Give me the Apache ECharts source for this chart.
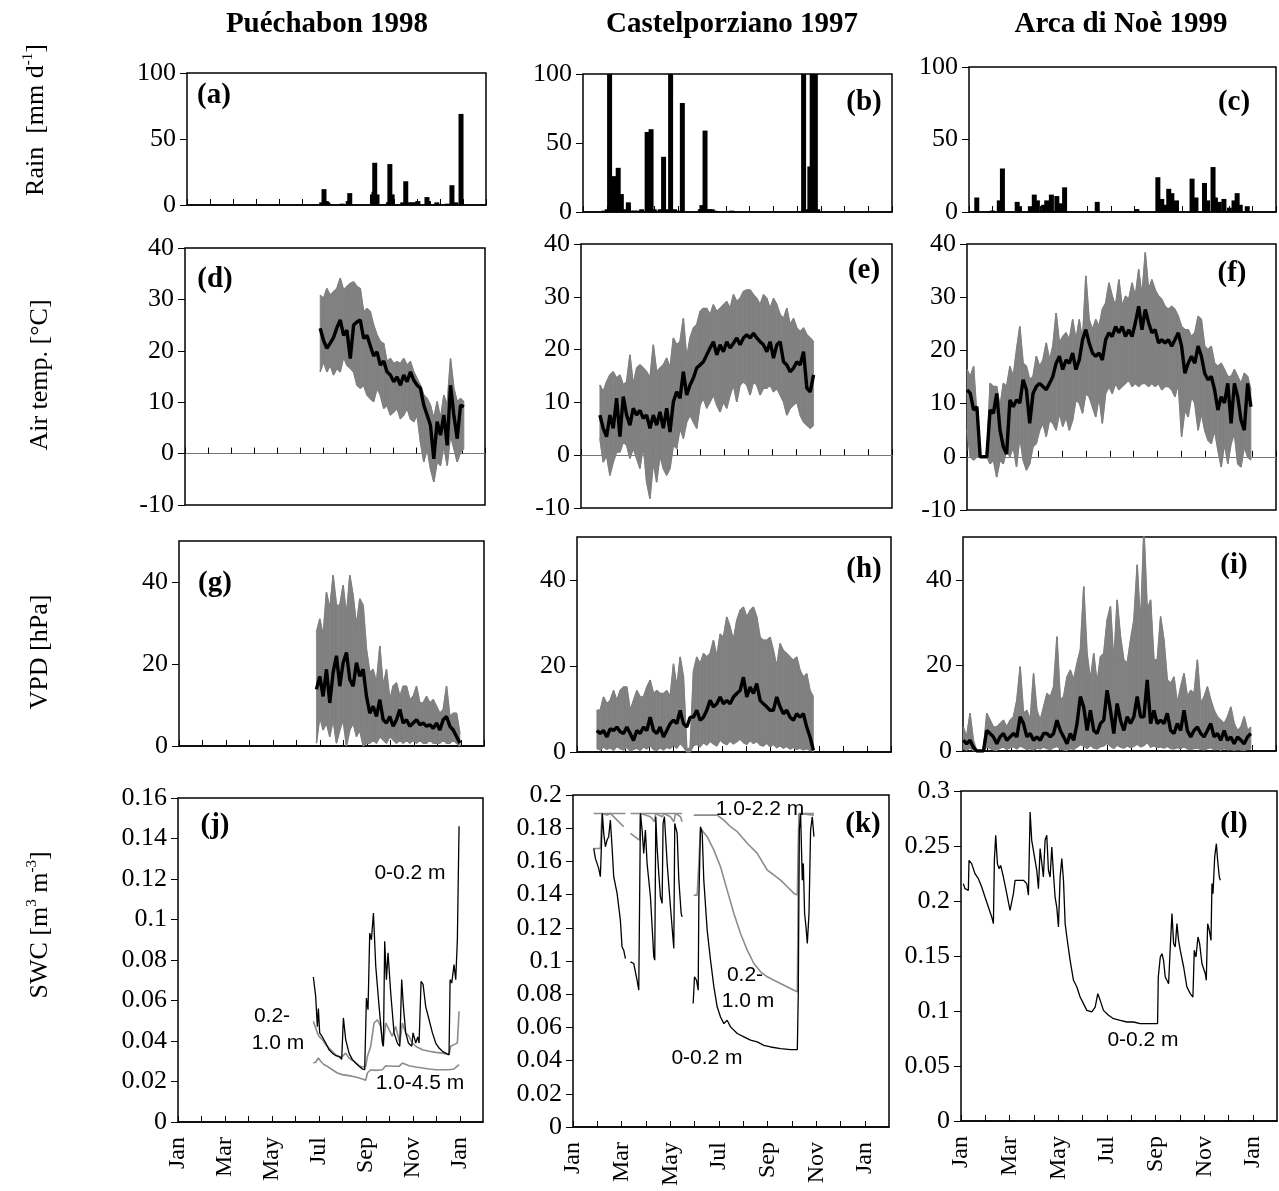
<!DOCTYPE html>
<html><head><meta charset="utf-8">
<script src="https://cdn.jsdelivr.net/npm/echarts@6/dist/echarts.min.js"></script>
<style>html,body{margin:0;padding:0;background:#fff}#c{width:1279px;height:1191px}</style>
</head><body><div id="c"></div>
<script>
// ---------------- text ----------------
const siteTitles = ['Puéchabon 1998', 'Castelporziano 1997', 'Arca di Noè 1999'];
const panelLetters = ['(a)','(b)','(c)','(d)','(e)','(f)','(g)','(h)','(i)','(j)','(k)','(l)'];
const monthLabels = ['Jan','','Mar','','May','','Jul','','Sep','','Nov','','Jan'];

// ---------------- rain [day, mm d-1] ----------------
const rainPue = [[178,2],[181,12],[184,3],[186,2],[205,1],[213,3],[215,9],[245,8],[247,10],[248,32],[251,8],[266,2],[268,31],[271,8],[285,2],[289,18],[293,2],[297,2],[301,2],[305,3],[317,6],[319,3],[330,2],[344,1],[350,15],[355,2],[362,69]];
const rainCas = [[27,1],[31,2],[34,130],[40,26],[42,2],[45,32],[49,13],[53,2],[58,7],[62,1],[66,1],[70,1],[75,2],[82,58],[87,60],[91,2],[95,1],[99,2],[103,40],[106,2],[109,1],[112,130],[117,2],[121,1],[127,79],[150,2],[152,5],[156,59],[159,2],[162,2],[165,2],[168,1],[190,1],[282,130],[286,2],[290,33],[293,130],[297,130],[300,2]];
const rainArc = [[10,10],[30,1],[39,8],[43,30],[62,7],[65,4],[79,4],[84,12],[88,8],[96,5],[100,8],[106,12],[113,11],[119,6],[123,17],[165,7],[216,2],[243,24],[248,9],[254,5],[257,16],[261,13],[267,8],[287,23],[292,10],[303,20],[307,8],[314,31],[317,10],[322,7],[328,9],[335,3],[341,8],[345,13],[349,5],[358,4]];

// ---------------- air temperature (daily max / min / mean, sampled) ----------------
const tPueStart = 178, tPueStep = 4.4;
const tPueMax  = [30.8,30.2,32.1,30.8,31.5,32.1,34.1,31.8,32.5,33.1,33.4,32.5,32.1,27.6,28.2,27.6,25.0,23.1,21.8,21.4,17.9,18.5,17.5,17.9,17.5,18.5,17.2,17.9,15.9,14.6,13.3,11.4,10.7,9.4,6.8,10.1,6.8,11.4,9.4,18.5,12.7,10.1,10.7,10.1];
const tPueMin  = [15.9,17.9,15.9,17.2,15.3,16.6,15.9,18.8,17.2,16.6,15.9,13.3,12.7,13.3,11.4,10.7,10.1,12.7,11.4,8.8,9.4,7.5,8.1,8.8,6.8,7.5,8.8,6.8,6.2,7.5,2.3,-1.6,1.0,-2.9,-5.5,-1.6,-2.3,1.6,-2.3,3.6,1.0,-1.6,0.3,1.0];
const tPueMean = [24.4,22.0,20.5,21.5,22.6,24.5,26.0,23.0,24.0,18.5,25.0,25.6,26.0,22.4,23.0,21.0,19.0,19.8,17.2,18.0,15.9,15.3,14.0,14.9,13.3,15.3,14.0,15.9,14.3,13.3,12.7,9.4,7.5,5.5,-1.0,6.2,3.6,7.5,1.6,13.3,7.5,2.9,9.4,9.1];

const tCasStart = 24, tCasStep = 4.24;
const tCasMax  = [13.3,12.0,13.9,15.2,15.8,14.6,15.2,13.3,13.9,19.0,13.3,16.5,17.1,16.5,15.8,14.6,20.9,15.8,16.5,17.1,18.4,16.5,22.2,20.9,21.5,25.9,18.4,22.2,24.1,24.7,27.2,27.8,27.8,26.6,28.5,27.2,27.8,28.5,29.1,27.8,30.4,29.1,29.7,31.0,31.3,31.3,30.4,29.7,28.5,30.4,29.7,27.8,29.7,28.5,26.6,25.9,27.8,24.7,25.9,24.1,23.4,24.1,22.8,22.2,21.5];
const tCasMin  = [3.2,-1.3,0,-3.8,-1.3,0.6,0.6,2.5,1.9,-0.6,1.3,-0.6,-2.5,1.9,-5.1,-8.2,-1.3,-5.1,0,-2.5,-3.8,-2.5,1.9,1.3,5.1,3.2,6.3,7.6,6.3,5.1,9.5,10.8,8.9,10.1,11.4,9.5,8.2,10.1,8.9,11.4,13.3,10.1,13.3,13.9,13.3,11.4,13.9,13.3,11.4,12.7,12.7,13.3,12.0,12.7,11.4,10.1,7.6,8.9,9.5,10.1,7.6,6.3,5.7,5.1,5.7];
const tCasMean = [7.6,5.1,3.5,7.6,5.1,10.8,3.5,11.1,7.6,5.7,8.9,7.6,8.5,7.0,7.6,5.1,7.6,5.7,8.2,5.1,8.9,4.4,10.1,12.0,10.8,15.8,11.4,13.3,14.6,16.5,17.1,17.7,19.0,20.3,21.5,19.0,20.9,19.6,21.5,20.3,21.2,22.2,20.9,22.2,22.8,22.2,23.1,22.2,21.5,20.9,19.6,21.5,18.4,20.9,21.5,17.7,17.1,15.8,16.5,17.7,17.1,19.6,12.7,12.0,15.2];

const tArcStart = 0, tArcStep = 4.22;
const tArcMax  = [16.4,15.1,17.0,7.5,0,0,0,13.8,13.2,13.2,9.4,13.8,13.2,17.0,15.1,20.1,24.5,17.6,17.0,14.5,15.1,18.9,17.0,18.2,21.4,18.2,20.8,27.0,21.4,22.6,23.3,22.0,25.8,22.0,25.8,22.0,34.0,25.8,23.9,25.8,24.5,27.7,28.9,32.7,30.2,28.3,33.3,28.3,30.2,29.6,32.7,30.2,35.2,30.2,38.4,31.4,33.3,31.4,30.2,29.6,28.3,27.7,28.3,27.7,26.4,24.5,23.9,23.9,22.6,23.3,26.4,25.8,20.8,20.1,20.8,17.6,17.0,17.6,16.4,15.1,15.1,16.4,15.1,13.8,15.7,15.1,12.6];
const tArcMin  = [5.0,0,-0.6,0,0,0,0,-1.3,-0.6,-3.8,-0.6,-1.3,1.3,0,1.9,-1.9,3.8,-0.6,-2.5,-1.3,1.9,2.5,5.0,6.3,3.8,6.9,6.3,5.0,8.2,5.7,7.5,5.0,6.9,10.7,10.1,8.2,11.9,11.3,9.4,7.5,11.3,6.3,11.9,13.2,11.9,13.8,12.6,13.2,13.8,14.5,13.2,13.8,13.2,13.8,13.8,13.2,13.8,13.2,13.8,12.6,13.2,13.2,12.6,11.3,13.8,3.8,8.8,7.5,11.3,10.1,5.0,8.2,5.0,3.1,2.5,5.0,1.3,-1.9,2.5,-1.3,2.5,4.4,-1.3,-1.9,1.9,0,-0.6];
const tArcMean = [12.6,11.9,8.8,9.4,0,0,0,8.8,8.2,11.9,5.0,1.9,0.5,10.7,9.4,10.7,10.1,14.5,12.6,6.3,11.9,13.2,13.8,13.2,12.6,13.8,15.1,17.6,18.9,16.4,18.2,17.6,19.5,16.4,18.2,22.0,23.9,21.4,19.5,18.9,19.5,18.2,22.0,23.3,22.6,24.5,23.3,24.5,22.6,23.9,22.6,25.2,28.3,23.9,27.7,25.2,23.3,23.9,21.4,22.0,21.4,22.0,20.8,22.0,23.3,20.8,15.7,17.6,18.9,17.6,20.8,18.9,15.7,14.5,15.1,12.6,8.8,11.3,10.1,13.8,6.3,13.8,11.3,6.9,5.0,13.8,9.4];

// ---------------- VPD (daily max / min / mean, sampled) ----------------
const vPueStart = 178, vPueStep = 4.32;
const vPueMax  = [27.7,31.0,26.9,37.5,33.4,41.6,34.3,34.3,39.2,31.8,41.6,36.7,29.3,35.9,34.3,23.6,17.9,18.7,15.4,24.4,14.6,18.7,11.3,14.6,15.4,12.1,14.6,14.6,11.3,12.1,14.6,10.5,10.5,12.1,10.5,11.3,9.7,8.0,8.9,14.6,7.2,8.0,8.0,3.1];
const vPueMin  = [0.7,7.2,3.9,5.6,2.3,6.4,0.7,3.9,6.4,0,3.9,5.6,2.3,3.9,0,0.7,0.7,1.5,0.7,2.3,1.5,0.7,2.3,1.5,0.7,1.5,0.7,1.5,0.7,1.5,0.7,1.5,0.7,0.7,1.5,0.7,0.7,0.7,1.5,0.7,0.7,1.5,0.7,0];
const vPueMean = [13.8,17.0,12.1,18.7,10.5,17.9,22.0,14.6,20.3,22.8,16.2,14.6,20.3,17.0,18.7,12.1,8.0,9.7,7.2,11.3,6.4,5.6,7.2,4.8,6.4,8.9,5.6,6.4,4.8,5.6,6.4,5.2,5.6,4.8,5.2,4.3,5.6,3.9,6.4,7.2,4.8,3.9,2.3,0.7];

const vCasStart = 25, vCasStep = 4.19;
const vCasMax  = [9.7,9.7,12.8,11.2,12.0,14.3,12.0,14.3,15.1,15.1,9.7,12.0,14.3,12.8,12.8,15.1,16.7,13.6,14.3,13.6,13.6,14.3,12.8,20.5,15.1,22.1,17.4,0.5,1.0,18.8,22.1,20.5,22.9,22.1,22.9,26.0,22.1,27.4,26.7,31.4,29.1,26.0,30.6,32.9,33.7,31.4,32.9,33.7,31.4,26.7,26.0,26.0,26.7,23.6,19.8,25.2,23.6,22.9,22.1,21.3,22.1,19.0,17.4,18.2,14.3,12.8];
const vCasMin  = [0.8,0.5,1.2,0.6,1.0,0.4,1.3,0.8,0.5,1.1,0.3,0.6,0.9,0.4,1.2,0.7,1.5,0.6,0.4,1.0,0.5,1.1,0.8,1.6,0.9,2.0,1.2,0,0,1.5,1.8,1.2,2.2,1.6,2.5,1.9,1.4,2.8,2.1,1.7,2.6,1.9,2.4,3.0,2.2,1.8,2.7,2.0,2.5,1.6,1.4,2.1,1.2,1.8,1.0,1.5,0.9,1.3,0.7,1.1,0.6,0.9,0.5,0.8,0.4,0.2];
const vCasMean = [5.0,4.3,5.0,3.5,5.4,5.0,5.8,4.7,4.3,5.8,4.3,2.7,5.0,4.3,5.8,5.0,8.1,5.0,4.3,5.8,3.5,5.0,6.6,7.4,6.6,9.7,6.6,5.8,8.1,8.1,9.7,7.4,8.1,9.7,12.0,10.5,11.2,12.8,11.2,12.0,11.2,12.8,13.6,14.3,17.4,12.8,15.1,13.6,15.9,12.0,11.2,10.5,9.7,9.7,12.8,10.5,8.9,9.7,8.1,7.4,8.9,8.1,8.9,5.8,3.5,0.4];

const vArcStart = 0.4, vArcStep = 4.22;
const vArcMax  = [5.6,3.3,8.8,2.5,0,0,0,8.8,7.2,5.6,5.6,6.4,7.2,5.6,7.2,8.0,11.9,19.7,8.8,9.5,7.2,18.1,9.5,7.2,10.3,13.4,12.7,15.0,26.7,11.9,12.7,17.3,18.9,16.6,20.5,23.6,38.4,22.8,16.6,22.8,15.8,22.0,22.8,30.6,33.8,20.5,35.3,26.7,21.3,20.5,25.9,30.6,43.5,29.1,52,33.0,35.3,21.3,21.3,31.4,25.9,16.6,15.8,17.3,11.1,15.0,18.1,12.7,14.2,13.4,21.3,11.1,12.7,15.0,11.9,9.5,8.0,7.2,6.4,8.0,10.3,6.4,4.8,5.6,8.0,4.8,5.6];
const vArcMin  = [0.5,0.2,0.8,0.1,0,0,0,1.0,0.6,0.3,0.2,0.7,0.9,0.4,0.8,1.0,0.5,1.2,0.8,0.4,0.6,0.3,0.7,0.5,0.9,0.6,0.4,0.8,1.1,0.5,0.3,0.2,0.6,0.4,0.9,1.5,1.2,0.6,1.3,0.7,0.5,1.0,1.2,1.8,1.1,0.6,1.4,0.9,0.7,1.2,0.8,1.1,1.6,1.0,1.3,2.0,0.9,1.2,0.8,1.0,0.7,1.1,0.6,0.5,0.8,0.6,1.0,0.5,0.4,0.6,0.7,0.4,0.3,0.6,0.8,0.3,0.5,0.2,0.6,0.3,0.4,0.2,0.4,0.3,0.2,0.4,0.5];
const vArcMean = [2.5,1.7,2.5,0.9,0,0,0,4.8,4.1,3.3,1.7,3.3,4.1,2.5,3.3,4.1,3.3,8.0,6.4,3.3,4.1,2.5,3.3,2.5,4.1,4.1,3.3,4.1,7.2,4.8,3.3,1.7,4.1,2.5,6.4,12.7,10.3,4.8,9.5,4.8,4.1,6.4,7.2,14.2,9.5,4.1,11.1,7.2,4.8,8.0,6.4,8.0,12.7,8.0,8.0,16.6,6.4,9.5,6.4,7.2,6.4,8.8,4.8,4.1,6.4,4.8,9.5,4.8,3.3,4.8,5.6,4.1,3.3,4.8,6.4,3.3,4.1,2.5,4.8,2.5,3.3,1.7,3.3,2.5,1.7,3.3,4.1];

// ---------------- soil water content [day, m3 m-3] ('-' = gap) ----------------
const swcPueTop = [[175.3,0.0716],[178.3,0.062],[180.5,0.047],[181.8,0.056],[183.5,0.044],[187,0.042],[191.3,0.039],[195.6,0.0357],[199.9,0.034],[204.2,0.0328],[208.6,0.0324],[212,0.031],[214.2,0.0514],[217.2,0.0407],[221.5,0.034],[225.8,0.0308],[230.2,0.0291],[234.5,0.0275],[238.8,0.0262],[241.8,0.0258],[244,0.0612],[246.1,0.0555],[248.3,0.0933],[250.5,0.090],[253.1,0.1032],[256.1,0.0769],[260.4,0.0571],[264.7,0.039],[266,0.0374],[267.7,0.0892],[269.9,0.0703],[272,0.0835],[275.5,0.0637],[279.8,0.044],[284.1,0.039],[287.2,0.0374],[289.7,0.0703],[291.9,0.0571],[294.9,0.044],[298.4,0.039],[302.7,0.0374],[304.4,0.044],[307.9,0.039],[310.5,0.042],[312.2,0.039],[314.8,0.0695],[317.4,0.068],[320.8,0.057],[325.2,0.0505],[329.5,0.044],[333.8,0.039],[338.1,0.0365],[342.4,0.0349],[346.7,0.034],[351,0.0332],[352.4,0.0703],[354.5,0.0686],[357.5,0.0777],[359.7,0.0703],[361.8,0.090],[364,0.146]];
const swcPueMid = [[175.3,0.0497],[180.5,0.044],[182.7,0.0423],[187,0.0407],[191.3,0.0382],[195.6,0.0365],[199.9,0.0349],[204.2,0.0332],[208.6,0.0321],[212.9,0.0324],[217.2,0.034],[221.5,0.0316],[225.8,0.0305],[230.2,0.0291],[234.5,0.0278],[238.8,0.0272],[243.1,0.0275],[245.3,0.0324],[249.6,0.0374],[253.9,0.0489],[258.2,0.0505],[262.5,0.0472],[265.6,0.0374],[269,0.0489],[273.3,0.0456],[277.6,0.0423],[281.9,0.0472],[287.2,0.039],[290.6,0.0489],[294.9,0.044],[299.2,0.0423],[303.6,0.039],[307.9,0.0374],[312.2,0.0365],[316.5,0.0357],[325.2,0.0349],[333.8,0.0344],[342.4,0.034],[351,0.0332],[353.2,0.0374],[357.5,0.0382],[361.8,0.039],[364,0.0547]];
const swcPueDeep = [[175.3,0.0291],[178.3,0.0295],[181.8,0.0316],[184.8,0.0300],[189.1,0.0283],[193.4,0.0275],[199.9,0.0258],[206.4,0.0242],[212.9,0.0234],[221.5,0.0229],[230.2,0.0222],[238.8,0.0212],[243.1,0.0206],[245.3,0.0242],[249.6,0.0258],[256.1,0.0255],[264.7,0.0258],[269,0.0278],[277.6,0.0275],[286.3,0.0275],[290.6,0.0291],[299.2,0.0278],[307.9,0.0272],[316.5,0.0267],[325.2,0.0262],[333.8,0.0258],[351,0.0258],[357.5,0.0262],[364,0.0283]];

const swcCasTop = [[25.9,0.1678],[28,0.1618],[30,0.1608],[32.1,0.1558],[34.2,0.1508],[35.5,0.1688],[36.7,0.1889],[38.4,0.1769],[40.5,0.1688],[42.6,0.1729],[44.6,0.1749],[46.7,0.1849],[48.8,0.1688],[50.9,0.1508],[55.1,0.1407],[59.2,0.1246],[61.3,0.1085],[63.4,0.1065],[65.5,0.1015],[68,'-'],[71.8,0.0995],[75.9,0.0985],[80.1,0.0884],[82.2,0.0824],[84.3,0.1889],[86.4,0.1789],[88.4,0.1648],[90.5,0.1789],[92.6,0.1588],[96.8,0.1387],[101,0.1025],[102.2,0.1005],[103.5,0.1869],[105.1,0.1688],[107.2,0.1528],[109.3,0.1387],[111.4,0.1347],[112.6,0.1829],[114.3,0.1869],[117.7,0.1588],[121.8,0.1327],[126,0.1075],[127.2,0.1829],[130.2,0.1769],[132.3,0.1487],[135.2,0.1286],[136.4,0.1266],[143,'-'],[150.2,0.0744],[151.9,0.0905],[154.4,0.0884],[156.5,0.0824],[157.3,0.1367],[159.4,0.1809],[161.5,0.1769],[163.5,0.1487],[167.7,0.1186],[171.9,0.1005],[176.1,0.0844],[180.2,0.0724],[184.4,0.0663],[188.6,0.0623],[192.7,0.0643],[196.9,0.0603],[205.3,0.0563],[213.6,0.0543],[221.9,0.0523],[230.3,0.0513],[238.6,0.0492],[247,0.0482],[259.5,0.0472],[272,0.0466],[280.4,0.0466],[281.6,0.0804],[282.9,0.1789],[284.5,0.1889],[286.6,0.1487],[287.9,0.1588],[289.5,0.1286],[291.2,0.1206],[292.9,0.1106],[295,0.1286],[297,0.1789],[299.1,0.1869],[301.2,0.1749]];
const swcCasMid = [[25.9,0.1678],[34.2,0.1678],[36.3,0.1889],[42.6,0.1879],[46.7,0.1889],[55.1,0.1849],[63.4,0.1809],[68,'-'],[71.8,0.1769],[80.1,0.1739],[83.4,0.1729],[84.3,0.1889],[90.5,0.1879],[96.8,0.1869],[101.8,0.1839],[103.5,0.1889],[111.4,0.1869],[113.5,0.1889],[121.8,0.1869],[126,0.1839],[128.1,0.1889],[134.3,0.1869],[136.4,0.1839],[143,'-'],[151,0.1397],[155.2,0.1397],[157.3,0.1588],[159.4,0.1799],[167.7,0.1749],[176.1,0.1668],[184.4,0.1568],[192.7,0.1427],[201.1,0.1286],[209.4,0.1166],[217.8,0.1065],[226.1,0.0985],[234.5,0.0935],[242.8,0.0905],[251.2,0.0884],[263.7,0.0854],[276.2,0.0824],[280.4,0.0814],[282.4,0.1889],[301.2,0.1879]];
const swcCasDeep = [[25.9,0.1889],[65.5,0.1889],[68,'-'],[71.8,0.1889],[136.4,0.1889],[143,'-'],[151,0.1879],[180.2,0.1879],[188.6,0.1849],[196.9,0.1809],[205.3,0.1779],[217.8,0.1709],[230.3,0.1648],[242.8,0.1548],[251.2,0.1518],[259.5,0.1487],[267.9,0.1447],[276.2,0.1407],[280.4,0.1397],[282.4,0.1889],[301.2,0.1889]];

const swcArcTop = [[2.9,0.2158],[5.0,0.2112],[7.1,0.2097],[9.2,0.2097],[10.0,0.237],[13.3,0.234],[17.5,0.2248],[21.7,0.2203],[25.9,0.2127],[30.0,0.2036],[34.2,0.1945],[38.4,0.1855],[40.5,0.1794],[41.7,0.237],[43.4,0.2597],[45.5,0.234],[47.5,0.2294],[49.6,0.2324],[53.0,0.2218],[57.2,0.2067],[61.3,0.1915],[63.4,0.19],[65.5,0.2067],[67.6,0.2188],[71.8,0.2188],[78.0,0.2188],[82.2,0.2158],[84.3,0.2052],[86.4,0.2809],[88.4,0.2552],[90.5,0.2461],[94.7,0.2279],[96.8,0.2112],[98.9,0.2476],[101.0,0.2461],[103.0,0.2218],[105.1,0.2552],[107.2,0.2597],[109.3,0.2279],[111.4,0.2218],[113.5,0.2491],[115.6,0.2248],[117.6,0.2036],[119.7,0.1945],[121.8,0.1764],[123.9,0.2218],[126.0,0.2385],[128.1,0.2188],[130.2,0.1794],[132.3,0.1673],[136.4,0.1461],[140.6,0.1279],[144.8,0.1218],[148.9,0.1127],[153.1,0.1067],[157.3,0.1006],[163.5,0.0991],[167.7,0.1036],[171.0,0.1158],[174.0,0.1097],[178.1,0.1006],[184.4,0.0961],[190.7,0.093],[199.0,0.0915],[207.3,0.09],[215.7,0.09],[224.0,0.0885],[236.5,0.0885],[245.7,0.0885],[246.6,0.1309],[249.1,0.1491],[251.2,0.1521],[253.2,0.1461],[255.3,0.1309],[257.4,0.1279],[259.5,0.1248],[261.6,0.1582],[263.7,0.1885],[265.8,0.1612],[267.8,0.1582],[269.9,0.1794],[272.0,0.1642],[274.1,0.1552],[278.3,0.14],[282.4,0.1218],[286.6,0.1158],[289.9,0.1127],[291.6,0.1552],[293.7,0.1491],[296.2,0.1673],[298.3,0.1612],[301.2,0.143],[305.4,0.1339],[306.6,0.1279],[308.3,0.1794],[310.4,0.1733],[312.5,0.1642],[313.7,0.2158],[315.0,0.2067],[317.1,0.24],[319.2,0.2521],[320.8,0.237],[322.9,0.2218],[324.2,0.2188]];

// ---------------- layout ----------------
const SERIF = '"Liberation Serif","Times New Roman",serif';
const SANS = '"Liberation Sans",Arial,sans-serif';
const GRAY = '#808080';
const grids = [
  {left:187, top:73,  width:299, height:132},
  {left:583, top:74,  width:309, height:138},
  {left:969, top:67,  width:307, height:145},
  {left:185, top:248, width:300, height:257},
  {left:581, top:244, width:311, height:264},
  {left:967, top:244, width:309, height:266},
  {left:179, top:541, width:305, height:205},
  {left:577, top:537, width:314, height:215},
  {left:963, top:537, width:313, height:214},
  {left:178, top:798, width:305, height:324},
  {left:573, top:795, width:316, height:332},
  {left:961, top:791, width:316, height:330}
];
const yRanges = [
  [0,100,50],[0,100,50],[0,100,50],
  [-10,40,10],[-10,40,10],[-10,40,10],
  [0,50,20],[0,50,20],[0,50,20],
  [0,0.16,0.02],[0,0.2,0.02],[0,0.3,0.05]
];
const MONTH = 365/12;

const option = {
  animation:false,
  backgroundColor:'#fff',
  grid: grids.map(g => Object.assign({show:true, borderColor:'#000', borderWidth:1.5, backgroundColor:'transparent', containLabel:false, outerBoundsMode:'none'}, g)),
  xAxis: grids.map((g,i) => ({
    type:'value', gridIndex:i, min:0, max:395, interval:MONTH,
    axisLine:{show:true, onZero:true, lineStyle:{color:(i>=3&&i<=5)?'#777':'#000', width:(i>=3&&i<=5)?1:1.5}},
    axisTick:{show:true, inside:true, length:6, lineStyle:{color:'#000', width:1}},
    axisLabel:{show:i>=9, rotate:90, margin:15, color:'#000', fontFamily:SERIF, fontSize:24,
      showMaxLabel:false,
      formatter:v => { const k = Math.round(v/MONTH); return (k>=0 && k<monthLabels.length) ? monthLabels[k] : ''; }},
    splitLine:{show:false}
  })),
  yAxis: grids.map((g,i) => ({
    type:'value', gridIndex:i, min:yRanges[i][0], max:yRanges[i][1], interval:yRanges[i][2],
    axisLine:{show:false},
    axisTick:{show:true, inside:false, length:7, lineStyle:{color:'#000', width:1}},
    axisLabel:{color:'#000', fontFamily:SERIF, fontSize:26, margin:11,
      showMaxLabel:!(i>=6 && i<=8),
      formatter:v => String(+(+v).toFixed(3))},
    splitLine:{show:false}
  })),
  series:[],
  graphic:[]
};

function addRain(i, data){
  option.series.push({type:'bar', xAxisIndex:i, yAxisIndex:i, data:data, barWidth:5, barGap:'-100%', itemStyle:{color:'#000'}, silent:true});
}
// gray band between daily min and max (custom polygons through the axis scales) + black mean line
function addBand(i, start, step, hi, lo, mean){
  const pts = hi.map((v,k)=>[start+k*step, lo[k], v]);
  option.series.push({type:'custom', xAxisIndex:i, yAxisIndex:i, data:pts, clip:true, silent:true, z:2,
    encode:{x:0, y:[1,2]},
    renderItem:(params, api) => {
      const k = params.dataIndex;
      if (k >= pts.length-1) return null;
      const a = pts[k], b = pts[k+1];
      return {type:'polygon', shape:{points:[api.coord([a[0],a[1]]), api.coord([b[0],b[1]]), api.coord([b[0],b[2]]), api.coord([a[0],a[2]])]},
        style:{fill:GRAY, stroke:GRAY, lineWidth:0.8}};
    }});
  option.series.push({type:'line', xAxisIndex:i, yAxisIndex:i, data:pts.map(p=>[p[0], p[2]]), symbol:'none', lineStyle:{color:GRAY, width:1.5}, z:2, silent:true});
  option.series.push({type:'line', xAxisIndex:i, yAxisIndex:i, data:pts.map(p=>[p[0], p[1]]), symbol:'none', lineStyle:{color:GRAY, width:1.5}, z:2, silent:true});
  option.series.push({type:'line', xAxisIndex:i, yAxisIndex:i, data:pts.map((p,k)=>[p[0], mean[k]]),
    symbol:'none', lineStyle:{color:'#000', width:3.4}, z:3, silent:true});
}
function addSwc(i, data, color, w){
  option.series.push({type:'line', xAxisIndex:i, yAxisIndex:i, data:data, symbol:'none', connectNulls:false, lineStyle:{color:color, width:w}, z:color==='#000'?4:3, silent:true});
}

addRain(0, rainPue); addRain(1, rainCas); addRain(2, rainArc);
addBand(3, tPueStart, tPueStep, tPueMax, tPueMin, tPueMean);
addBand(4, tCasStart, tCasStep, tCasMax, tCasMin, tCasMean);
addBand(5, tArcStart, tArcStep, tArcMax, tArcMin, tArcMean);
addBand(6, vPueStart, vPueStep, vPueMax, vPueMin, vPueMean);
addBand(7, vCasStart, vCasStep, vCasMax, vCasMin, vCasMean);
addBand(8, vArcStart, vArcStep, vArcMax, vArcMin, vArcMean);
addSwc(9, swcPueDeep, '#8c8c8c', 1.6);
addSwc(9, swcPueMid, '#8c8c8c', 1.6);
addSwc(9, swcPueTop, '#000', 1.3);
addSwc(10, swcCasDeep, '#8c8c8c', 1.6);
addSwc(10, swcCasMid, '#8c8c8c', 1.6);
addSwc(10, swcCasTop, '#000', 1.3);
addSwc(11, swcArcTop, '#000', 1.3);

// ---------------- texts ----------------
function txt(x, y, text, font, extra){
  return Object.assign({type:'text', x:x, y:y, silent:true, z:100,
    style:{text:text, font:font, fill:'#000', align:'center', verticalAlign:'middle'}}, extra||{});
}
const G = option.graphic;
[327, 732, 1121].forEach((x,k)=> G.push(txt(x, 25, siteTitles[k], 'bold 29px '+SERIF)));
const letterPos = [[214,96],[864,103],[1234,103],[215,280],[864,271],[1232,274],[215,584],[864,570],[1234,566],[215,826],[863,825],[1234,825]];
letterPos.forEach((p,k)=> G.push(txt(p[0], p[1], panelLetters[k], 'bold 29px '+SERIF)));
// SWC layer annotations
const annot = [
  [410,873,'0-0.2 m'],[272,1016,'0.2-'],[278,1043,'1.0 m'],[420,1083,'1.0-4.5 m'],
  [760,809,'1.0-2.2 m'],[745,975,'0.2-'],[748,1001,'1.0 m'],[707,1058,'0-0.2 m'],
  [1143,1040,'0-0.2 m']
];
annot.forEach(a => G.push(txt(a[0], a[1], a[2], '21px '+SANS)));
// y-axis names (rotated, with superscripts)
const richStyle = {
  n:{fontFamily:SERIF, fontSize:26, lineHeight:30, fill:'#000'},
  s:{fontFamily:SERIF, fontSize:15, lineHeight:30, verticalAlign:'top', fill:'#000'}
};
const yNames = [
  [36,120,'{n|Rain  [mm d}{s|-1}{n|]}'],
  [40,375,'{n|Air temp. [°C]}'],
  [40,652,'{n|VPD [hPa]}'],
  [40,925,'{n|SWC [m}{s|3}{n| m}{s|-3}{n|]}']
];
yNames.forEach(a => G.push({type:'text', x:a[0], y:a[1], rotation:Math.PI/2, silent:true, z:100,
  style:{text:a[2], rich:richStyle, align:'center', verticalAlign:'middle', fill:'#000', font:'26px '+SERIF}}));

const chart = echarts.init(document.getElementById('c'), null, {renderer:'canvas'});
chart.setOption(option);
</script>
</body></html>
